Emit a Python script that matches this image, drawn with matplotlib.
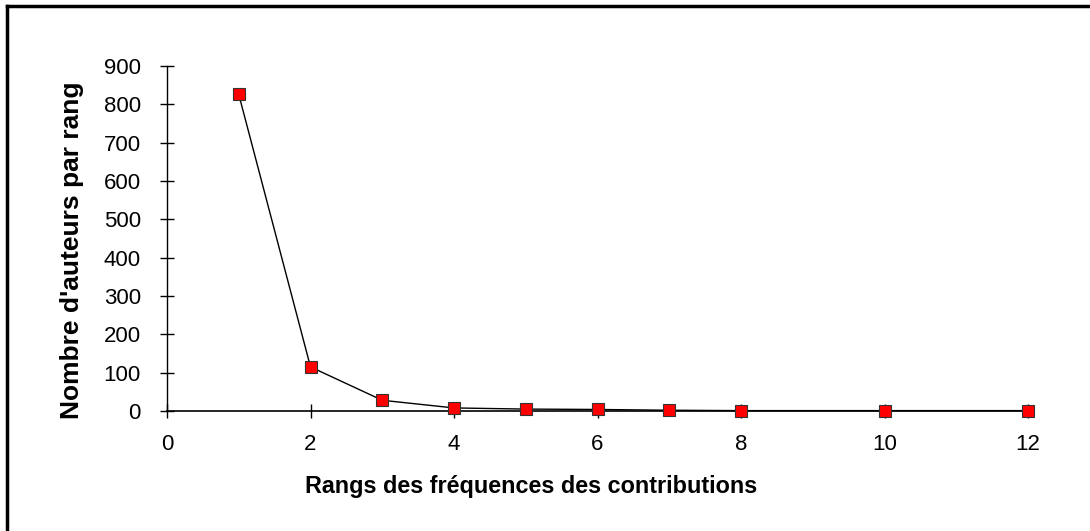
import matplotlib
matplotlib.use("Agg")
import matplotlib.pyplot as plt
from matplotlib.lines import Line2D

# data
rangs = [1, 2, 3, 4, 5, 6, 7, 8, 10, 12]
auteurs = [826, 115, 28, 8, 5, 4, 2, 1, 1, 1]
xticks = [0, 2, 4, 6, 8, 10, 12]
yticks = [0, 100, 200, 300, 400, 500, 600, 700, 800, 900]

plt.rcParams['font.family'] = ['Liberation Sans', 'DejaVu Sans']

fig = plt.figure(figsize=(10.9, 5.31), dpi=100)
ax = fig.add_axes([167 / 1090, 1 - 411 / 531, (1028 - 167) / 1090, (411 - 66) / 531])

ax.plot(rangs, auteurs, color='black', lw=1.0, marker='s', markersize=9.3,
        markerfacecolor='#ff0000', markeredgecolor='#333333', markeredgewidth=0.8,
        clip_on=False, zorder=3)

ax.set_xlim(0, 12)
ax.set_ylim(0, 900)
ax.set_xticks(xticks)
ax.set_yticks(yticks)
ax.tick_params(direction='inout', length=9.5, width=1, labelsize=16, pad=12)
ax.tick_params(axis='y', pad=14)

for s in ['top', 'right']:
    ax.spines[s].set_visible(False)
ax.spines['left'].set_linewidth(1)
ax.spines['bottom'].set_linewidth(1.2)

ax.set_xlabel("Rangs des fréquences des contributions", fontsize=16.8,
              fontweight='bold', va='center')
ax.xaxis.set_label_coords((531 - 167) / 861, (411 - 487) / 345)
ax.set_ylabel("Nombre d'auteurs par rang", fontsize=19, fontweight='bold',
              va='center')
ax.yaxis.set_label_coords((72 - 167) / 861, (411 - 250) / 345)

# outer chart frame (top and left edges visible)
fig.add_artist(Line2D([7 / 1090, 7 / 1090], [0, 1 - 6 / 531], color='black', lw=2.5))
fig.add_artist(Line2D([7 / 1090, 1], [1 - 6 / 531, 1 - 6 / 531], color='black', lw=2.5))

fig.savefig('out.png', dpi=100)
